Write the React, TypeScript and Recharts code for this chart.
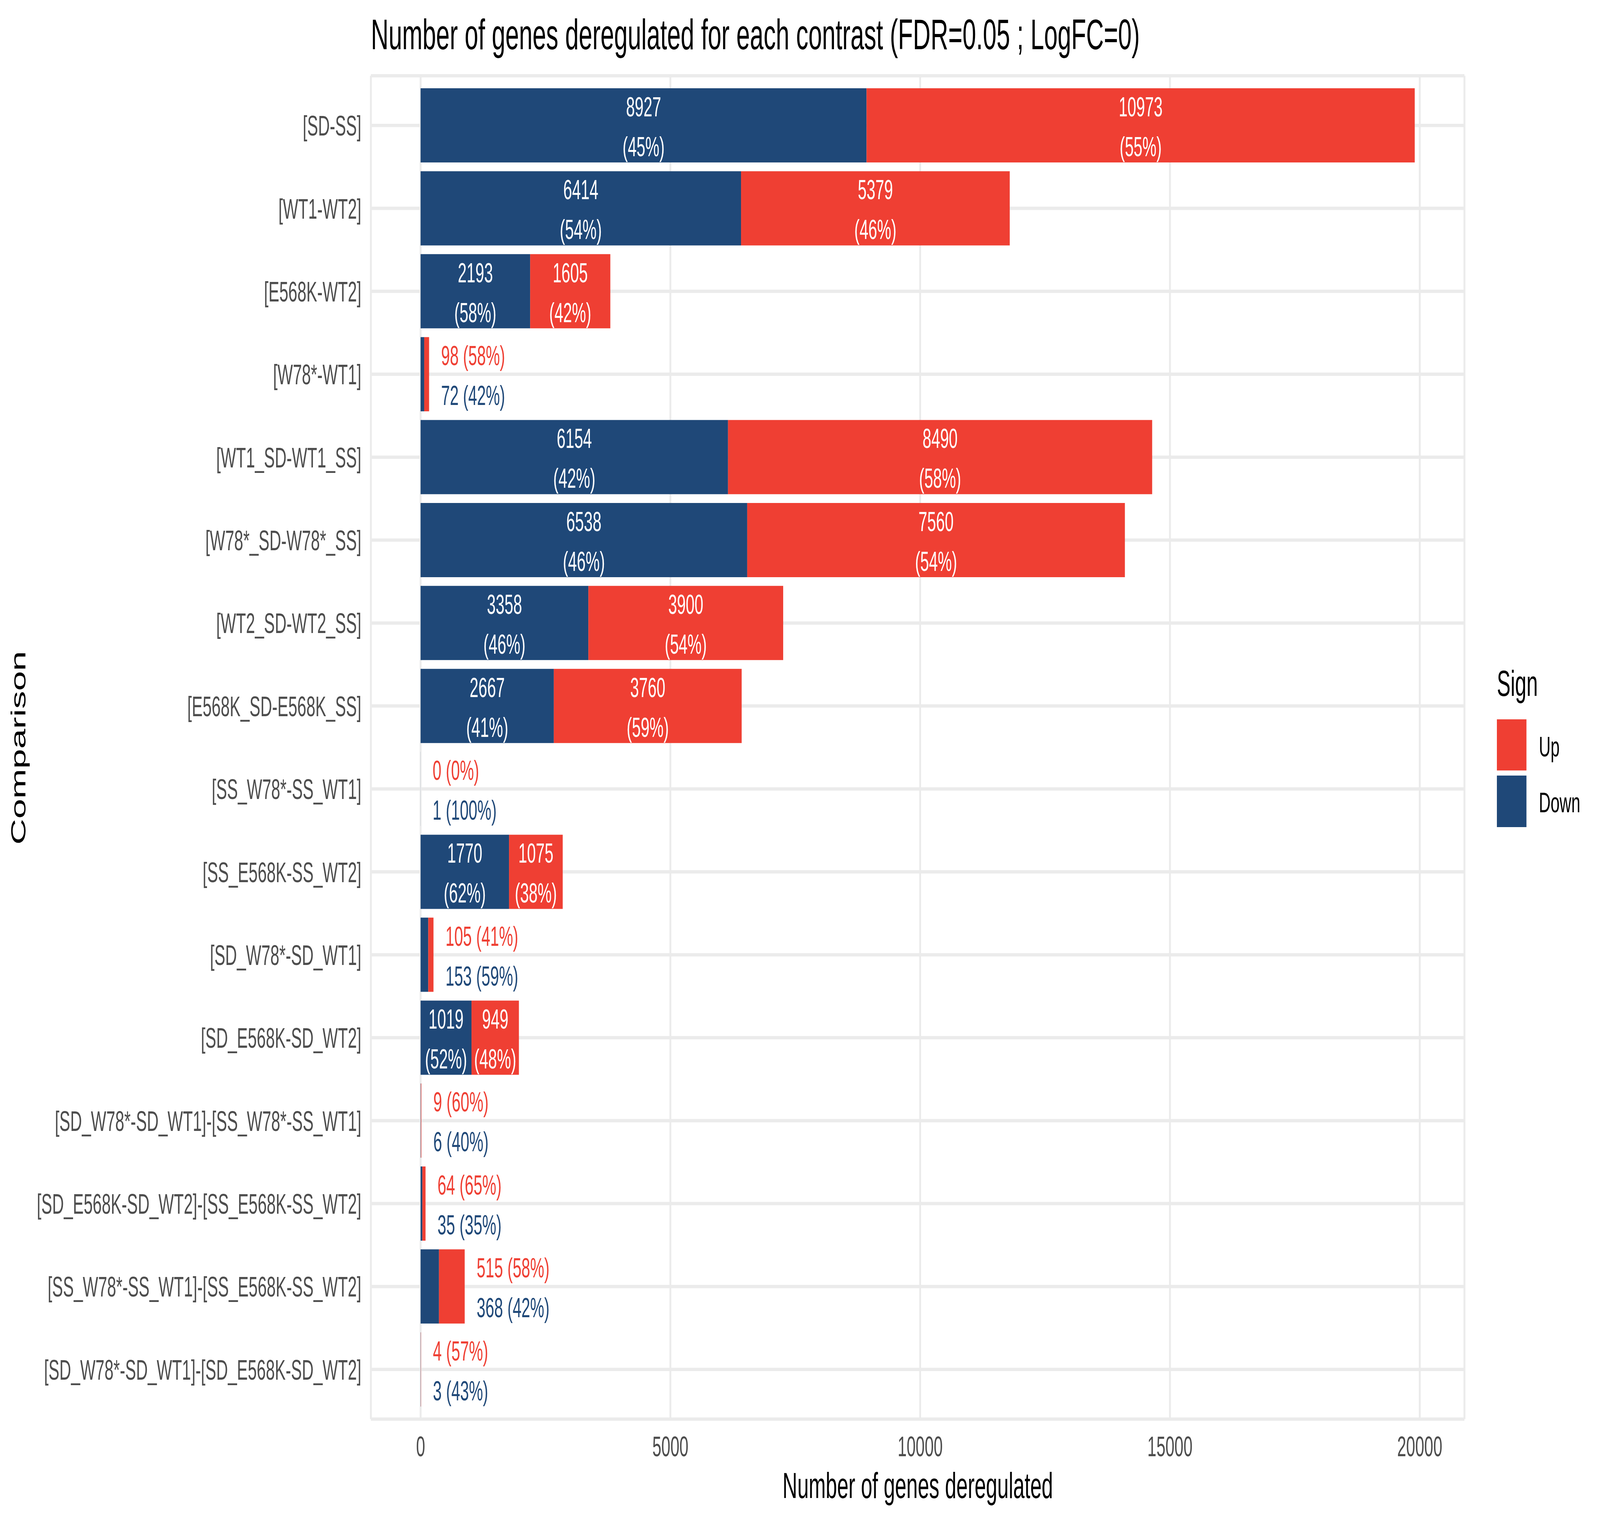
import { BarChart, Bar, XAxis, YAxis, CartesianGrid, LabelList } from 'recharts';

const comparisons = [
  '[SD-SS]',
  '[WT1-WT2]',
  '[E568K-WT2]',
  '[W78*-WT1]',
  '[WT1_SD-WT1_SS]',
  '[W78*_SD-W78*_SS]',
  '[WT2_SD-WT2_SS]',
  '[E568K_SD-E568K_SS]',
  '[SS_W78*-SS_WT1]',
  '[SS_E568K-SS_WT2]',
  '[SD_W78*-SD_WT1]',
  '[SD_E568K-SD_WT2]',
  '[SD_W78*-SD_WT1]-[SS_W78*-SS_WT1]',
  '[SD_E568K-SD_WT2]-[SS_E568K-SS_WT2]',
  '[SS_W78*-SS_WT1]-[SS_E568K-SS_WT2]',
  '[SD_W78*-SD_WT1]-[SD_E568K-SD_WT2]',
];
const downCounts = [8927, 6414, 2193, 72, 6154, 6538, 3358, 2667, 1, 1770, 153, 1019, 6, 35, 368, 3];
const upCounts = [10973, 5379, 1605, 98, 8490, 7560, 3900, 3760, 0, 1075, 105, 949, 9, 64, 515, 4];
const downPct = [45, 54, 58, 42, 42, 46, 46, 41, 100, 62, 59, 52, 40, 35, 42, 43];
const upPct = [55, 46, 42, 58, 58, 54, 54, 59, 0, 38, 41, 48, 60, 65, 58, 57];

const xTicks = [0, 5000, 10000, 15000, 20000];
const xMinorTicks = [2500, 7500, 12500, 17500];

const W = 7200;
const H = 3900;
const UP = '#EF3F33';
const DOWN = '#1F4878';
const GRID = '#EBEBEB';
const FONT = '"Liberation Sans", Arial, sans-serif';
const INSIDE_MIN = 1500; // totals above this get labels inside the bars

const rows = comparisons.map((name, i) => ({
  name,
  down: downCounts[i],
  up: upCounts[i],
  total: downCounts[i] + upCounts[i],
  downPct: downPct[i],
  upPct: upPct[i],
}));

const byName = (n: string) => rows.find((r) => r.name === n)!;

function InsideLabel({ x, y, width, height, value, kind }: any) {
  const r = byName(value);
  if (!r || r.total <= INSIDE_MIN) return null;
  const cx = Number(x) + Number(width) / 2;
  const cy = Number(y) + Number(height) / 2;
  const n = kind === 'up' ? r.up : r.down;
  const p = kind === 'up' ? r.upPct : r.downPct;
  return (
    <g fontFamily={FONT} fontSize={71} fill="#FFFFFF" textAnchor="middle">
      <text x={cx} y={cy - 23}>{n}</text>
      <text x={cx} y={cy + 79}>({p}%)</text>
    </g>
  );
}

// drawn from the Down segment: its pixel width / count gives the scale to the stack end
function OutsideLabels({ x, y, width, height, value }: any) {
  const r = byName(value);
  if (!r || r.total > INSIDE_MIN || !r.down) return null;
  const end = Number(x) + (Number(width) * r.total) / r.down;
  const lx = end + 54;
  const cy = Number(y) + Number(height) / 2;
  return (
    <g fontFamily={FONT} fontSize={71} textAnchor="start">
      <text x={lx} y={cy - 23} fill={UP}>{`${r.up} (${r.upPct}%)`}</text>
      <text x={lx} y={cy + 79} fill={DOWN}>{`${r.down} (${r.downPct}%)`}</text>
    </g>
  );
}

function YTick({ x, y, payload }: any) {
  return (
    <text x={x} y={y} dy={26} textAnchor="end" fontFamily={FONT} fontSize={73} fill="#4D4D4D">
      {payload.value}
    </text>
  );
}

function XTick({ x, y, payload }: any) {
  return (
    <text x={x} y={y + 95} textAnchor="middle" fontFamily={FONT} fontSize={73} fill="#4D4D4D">
      {payload.value}
    </text>
  );
}

const minorGen = ({ xAxis }: any) => {
  const s = xAxis?.scale;
  return typeof s === 'function' ? xMinorTicks.map((v) => s(v)) : [];
};

export default function App() {
  // the browser may be narrower than the 7200px chart: squeeze horizontally to fit
  const vw = typeof window !== 'undefined' ? window.innerWidth : W;
  const sx = Math.min(1, vw / W);
  return (
    <div style={{ position: 'absolute', left: 0, top: 0, width: W * sx, height: H, overflow: 'hidden', background: '#fff' }}>
      <div style={{ position: 'relative', width: W, height: H, transform: `scale(${sx}, 1)`, transformOrigin: '0 0' }}>
        <BarChart
          width={W}
          height={H}
          data={rows}
          layout="vertical"
          margin={{ top: 194, right: 610, bottom: 0, left: 0 }}
        >
          <CartesianGrid horizontal={false} stroke={GRID} strokeWidth={4.3} verticalCoordinatesGenerator={minorGen} />
          <CartesianGrid stroke={GRID} strokeWidth={8.5} />
          <XAxis
            type="number"
            domain={[-995, 20895]}
            ticks={xTicks}
            allowDataOverflow
            height={266}
            axisLine={false}
            tickLine={false}
            tickSize={0}
            tickMargin={0}
            tick={<XTick />}
          />
          <YAxis
            type="category"
            dataKey="name"
            width={1669}
            padding={{ top: 21, bottom: 21 }}
            axisLine={false}
            tickLine={false}
            tickSize={0}
            tickMargin={43}
            interval={0}
            tick={<YTick />}
          />
          <Bar dataKey="down" stackId="s" fill={DOWN} barSize={190} isAnimationActive={false}>
            <LabelList dataKey="name" content={(p: any) => <InsideLabel {...p} kind="down" />} />
            <LabelList dataKey="name" content={(p: any) => <OutsideLabels {...p} />} />
          </Bar>
          <Bar dataKey="up" stackId="s" fill={UP} barSize={190} isAnimationActive={false}>
            <LabelList dataKey="name" content={(p: any) => <InsideLabel {...p} kind="up" />} />
          </Bar>
        </BarChart>
        <svg
          width={W}
          height={H}
          style={{ position: 'absolute', left: 0, top: 0, pointerEvents: 'none' }}
          fontFamily={FONT}
        >
          <text x={1669} y={126} fontSize={110} fill="#000">
            Number of genes deregulated for each contrast (FDR=0.05 ; LogFC=0)
          </text>
          <text x={4130} y={3836} fontSize={92} fill="#000" textAnchor="middle">
            Number of genes deregulated
          </text>
          <text x={115} y={1915} fontSize={92} fill="#000" textAnchor="middle" transform="rotate(-90 115 1915)">
            Comparison
          </text>
          <text x={6736} y={1782} fontSize={92} fill="#000">Sign</text>
          <rect x={6736} y={1842} width={133} height={131} fill={UP} />
          <rect x={6736} y={1986} width={133} height={132} fill={DOWN} />
          <text x={6925} y={1937} fontSize={73} fill="#000">Up</text>
          <text x={6925} y={2080} fontSize={73} fill="#000">Down</text>
        </svg>
      </div>
    </div>
  );
}
